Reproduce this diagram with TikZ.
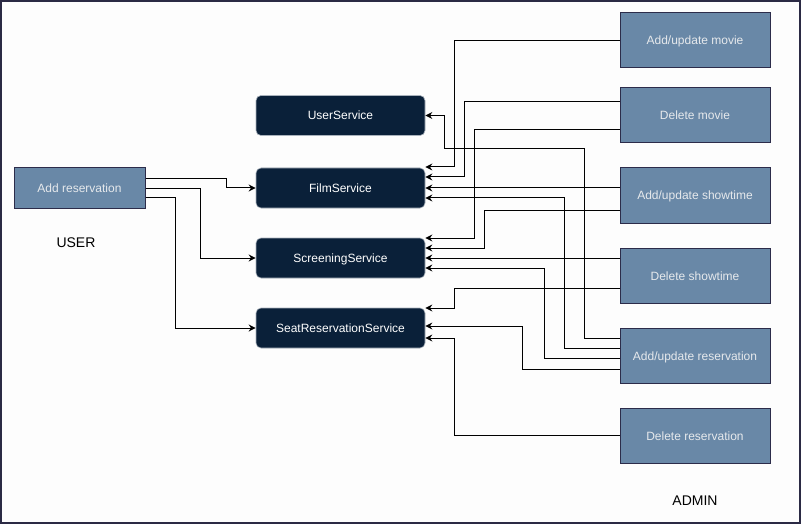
\documentclass[tikz,border=0pt]{standalone}
\usepackage{fontspec}
\setmainfont{Liberation Sans}
\usetikzlibrary{arrows.meta,calc}
\definecolor{adminfill}{HTML}{6988A7}
\definecolor{adminedge}{HTML}{2C2C4A}
\definecolor{admintext}{HTML}{E6E9EC}
\definecolor{svcfill}{HTML}{0A2039}
\definecolor{svcedge}{HTML}{A9B2BC}
\definecolor{frameedge}{HTML}{2B2A44}
\definecolor{bgfill}{HTML}{FDFDFD}
\tikzset{
  actbox/.style={draw=adminedge, fill=adminfill, text=admintext, line width=1pt,
    inner sep=0pt, text height=9pt, text depth=0pt, font=\fontsize{12}{14}\selectfont},
  svcbox/.style={draw=svcedge, fill=svcfill, text=white, line width=0.6pt, rounded corners=5pt,
    minimum width=169pt, minimum height=40pt, inner sep=0pt, text height=9pt, text depth=0pt,
    font=\fontsize{12}{14}\selectfont},
  rolelabel/.style={text=black, font=\fontsize{14}{16}\selectfont, inner sep=0pt,
    text height=10pt, text depth=0pt},
  arr/.style={draw=black, line width=1pt, -{Stealth[length=7pt,width=7pt,inset=2.2pt]}},
}
\begin{document}
\begin{tikzpicture}[x=1pt,y=-1pt]
\useasboundingbox (0,0) rectangle (801,524);
\fill[bgfill] (0,0) rectangle (801,524);
\draw[frameedge, line width=1.6pt] (0.8,0.8) rectangle (800.2,523.2);

% user side
\node[actbox, minimum width=131pt, minimum height=40pt] (ar) at (79.5,188) {Add reservation};
\node[rolelabel] (user) at (76,242) {USER};

% services
\node[svcbox] (us) at (340.5,115.5) {UserService};
\node[svcbox] (film) at (340.5,188) {FilmService};
\node[svcbox] (scr) at (340.5,258) {ScreeningService};
\node[svcbox] (seat) at (340.5,328) {SeatReservationService};

% admin actions
\tikzset{adm/.style={actbox, minimum width=150pt, minimum height=55pt}}
\node[adm] (am) at (695,40.5) {Add/update movie};
\node[adm] (dm) at (695,115.5) {Delete movie};
\node[adm] (aus) at (695,195.5) {Add/update showtime};
\node[adm] (ds) at (695,275.5) {Delete showtime};
\node[adm] (aur) at (695,355.5) {Add/update reservation};
\node[adm] (dr) at (695,435.5) {Delete reservation};
\node[rolelabel] (admin) at (695,500) {ADMIN};

% user connectors
\draw[arr] ([yshift=9pt]ar.east) -- ++(81,0) |- (film.west);
\draw[arr] ([yshift=-1pt]ar.east) -- ++(55,0) |- (scr.west);
\draw[arr] ([yshift=-10pt]ar.east) -- ++(30,0) |- (seat.west);

% admin connectors
\draw[arr] (am.west) -- ++(-165,0) |- ([yshift=21pt]film.east);
\draw[arr] ([yshift=14pt]dm.west) -- ++(-155,0) |- ([yshift=11pt]film.east);
\draw[arr] ([yshift=-14pt]dm.west) -- ++(-145,0) |- ([yshift=20pt]scr.east);
\draw[arr] (aus.west |- film.east) -- (film.east);
\draw[arr] ([yshift=-14.5pt]aus.west) -- ++(-135,0) |- ([yshift=10pt]scr.east);
\draw[arr] (ds.west |- scr.east) -- (scr.east);
\draw[arr] ([yshift=-13pt]ds.west) -- ++(-165,0) |- ([yshift=20pt]seat.east);
\draw[arr] ([yshift=17pt]aur.west) -- ++(-35,0) -- ++(0,-190) -- ++(-140,0) |- (us.east);
\draw[arr] ([yshift=7pt]aur.west) -- ++(-55,0) |- ([yshift=-10pt]film.east);
\draw[arr] ([yshift=-3pt]aur.west) -- ++(-75,0) |- ([yshift=-10pt]scr.east);
\draw[arr] ([yshift=-14pt]aur.west) -- ++(-97,0) |- ([yshift=2pt]seat.east);
\draw[arr] (dr.west) -- ++(-165,0) |- ([yshift=-10pt]seat.east);
\end{tikzpicture}
\end{document}
